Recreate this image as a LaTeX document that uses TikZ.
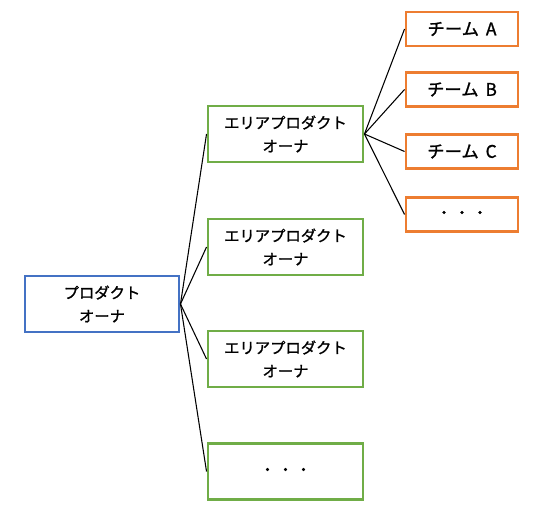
\documentclass[tikz,border=0pt]{standalone}
\usepackage{fontspec}
\newfontfamily\jp[FakeBold=1.2]{Noto Sans CJK JP}
\definecolor{bluebox}{HTML}{4472C4}
\definecolor{greenbox}{HTML}{70AD47}
\definecolor{orangebox}{HTML}{ED7D31}
\begin{document}
\begin{tikzpicture}[x=0.75pt,y=-0.75pt,
  box/.style={draw,line width=2.2pt,inner sep=0pt,align=center,font=\jp\fontsize{11.5}{17.5}\selectfont},
  pobox/.style={box,draw=bluebox,minimum width=115.5pt,minimum height=42pt},
  apobox/.style={box,draw=greenbox,minimum width=116.25pt,minimum height=42pt},
  teambox/.style={box,draw=orangebox,minimum width=84pt,minimum height=25.5pt,font=\jp\fontsize{13}{15}\selectfont},
  link/.style={draw=black,line width=0.8pt}]
\useasboundingbox (0,0) rectangle (546,514);
\node[pobox] (po) at (102,304) {プロダクト\\オーナ};
\node[apobox] (a1) at (285.5,134) {エリアプロダクト\\オーナ};
\node[apobox] (a2) at (285.5,247) {エリアプロダクト\\オーナ};
\node[apobox] (a3) at (285.5,359) {エリアプロダクト\\オーナ};
\node[apobox,font=\jp\fontsize{11}{15}\selectfont] (a4) at (285.5,471.5) {・ ・ ・};
\node[teambox] (t1) at (462,29) {チーム\hspace{0.4em}A};
\node[teambox] (t2) at (462,89.5) {チーム\hspace{0.4em}B};
\node[teambox] (t3) at (462,151.5) {チーム\hspace{0.4em}C};
\node[teambox,font=\jp\fontsize{11}{15}\selectfont] (t4) at (462,214.5) {・ ・ ・};
\foreach \n in {a1,a2,a3,a4} \draw[link] (po.east) -- (\n.west);
\foreach \n in {t1,t2,t3,t4} \draw[link] (a1.east) -- (\n.west);
\end{tikzpicture}
\end{document}
